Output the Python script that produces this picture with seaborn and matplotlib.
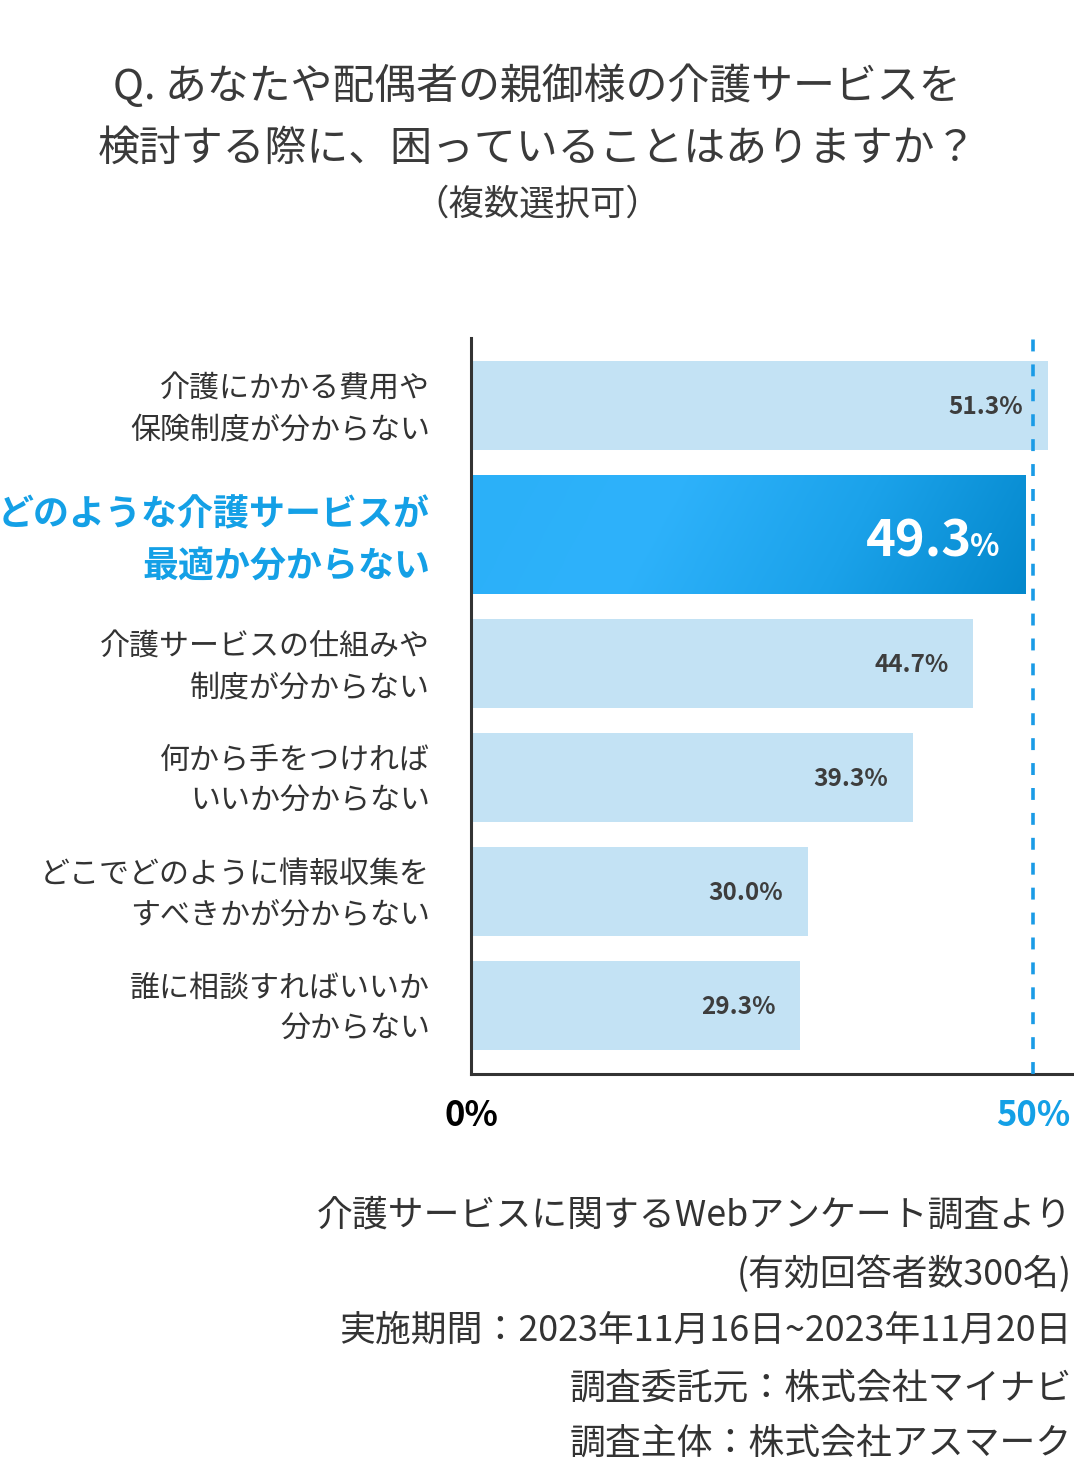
import numpy as np
import pandas as pd
import matplotlib
matplotlib.use("Agg")
import matplotlib.pyplot as plt
import seaborn as sns
from matplotlib.colors import LinearSegmentedColormap
from matplotlib.transforms import blended_transform_factory

# ---------------- data ----------------
categories = [
    "介護にかかる費用や\n保険制度が分からない",
    "どのような介護サービスが\n最適か分からない",
    "介護サービスの仕組みや\n制度が分からない",
    "何から手をつければ\nいいか分からない",
    "どこでどのように情報収集を\nすべきかが分からない",
    "誰に相談すればいいか\n分からない",
]
values = [51.3, 49.3, 44.7, 39.3, 30.0, 29.3]
highlight_index = 1
xtick_values = [0, 50]
xtick_labels = ["0%", "50%"]
title_lines = [
    "Q. あなたや配偶者の親御様の介護サービスを",
    "検討する際に、困っていることはありますか？",
    "（複数選択可）",
]
footer_lines = [
    "介護サービスに関するWebアンケート調査より",
    "(有効回答者数300名)",
    "実施期間：2023年11月16日~2023年11月20日",
    "調査委託元：株式会社マイナビ",
    "調査主体：株式会社アスマーク",
]

# ---------------- style ----------------
sns.set_theme(style="white")
plt.rcParams["font.family"] = ["Noto Sans CJK JP", "DejaVu Sans"]

LIGHT = "#c3e2f4"
BLUE = "#14a0e6"
DARK = "#333333"

W, H = 1074, 1468
fig = plt.figure(figsize=(W / 100, H / 100), dpi=100)
fig.patch.set_facecolor("white")

ax_left, ax_right, ax_top, ax_bottom = 471, 1074, 338, 1074
ax = fig.add_axes([ax_left / W, 1 - ax_bottom / H,
                   (ax_right - ax_left) / W, (ax_bottom - ax_top) / H])

# layout positions (in units of the regular bar pitch)
pitch_px = 114.0
pos = [0.0, 129 / pitch_px, 258 / pitch_px,
       258 / pitch_px + 1, 258 / pitch_px + 2, 258 / pitch_px + 3]
bar_h = 89 / pitch_px
hl_h = 119 / pitch_px

df = pd.DataFrame({"cat": categories, "value": values, "pos": pos})
sns.barplot(data=df, x="value", y="pos", orient="h", native_scale=True,
            width=bar_h, color=LIGHT, saturation=1, linewidth=0, ax=ax,
            errorbar=None)

px_per_unit = 11.24
xmax = (ax_right - ax_left) / px_per_unit
ymin = (ax_top - 405.5) / pitch_px
ymax = (ax_bottom - 405.5) / pitch_px

# highlighted bar with gradient
hl_val = values[highlight_index]
for p in ax.patches:
    if abs(p.get_width() - hl_val) < 1e-6:
        p.set_y(pos[highlight_index] - hl_h / 2)
        p.set_height(hl_h)
        p.set_facecolor("#1aa5ec")
        cmap = LinearSegmentedColormap.from_list(
            "g", ["#2bb0f8", "#2eb2fb", "#1ba2ea", "#0488cc"])
        xs = np.linspace(0, 1, 256)
        ys = np.linspace(0, 1, 32)
        grad = xs[None, :] * 0.9 + ys[:, None] * 0.1
        ax.imshow(grad, extent=[0, hl_val, pos[highlight_index] + hl_h / 2,
                                pos[highlight_index] - hl_h / 2],
                  cmap=cmap, aspect="auto", zorder=p.get_zorder() + 0.1,
                  interpolation="bicubic")

ax.set_xlim(0, xmax)
ax.set_ylim(ymax, ymin)

# reference dashed line at 50%
ax.axvline(50, color="#1a9be6", lw=2.6, dashes=(3.3, 3.6), zorder=5)

# value labels
off_units = 25 / px_per_unit
for i, v in enumerate(values):
    if i == highlight_index:
        base = pos[i] + 22 / pitch_px
        ax.text(v - 26 / px_per_unit, base, "%", ha="right", va="baseline",
                fontsize=22, fontweight="bold", color="white", zorder=6)
        ax.text(v - 53 / px_per_unit, base, f"{v:.1f}", ha="right",
                va="baseline", fontsize=36.5, fontweight="bold", color="white",
                zorder=6)
    else:
        ax.text(v - off_units, pos[i] + 9 / pitch_px, f"{v:.1f}%", ha="right",
                va="baseline", fontsize=17.5, fontweight="bold",
                color="#3d3d3d", zorder=6)

# category labels (left of the axis)
ax.set_yticks([])
ax.set_ylabel("")
lab_tr = blended_transform_factory(ax.transAxes, ax.transData)
lab_x = (430 - ax_left) / (ax_right - ax_left)
for i, (c, y) in enumerate(zip(categories, pos)):
    if i == highlight_index:
        ax.text(lab_x, y + 6 / pitch_px, c, transform=lab_tr, ha="right",
                va="center", fontsize=25.9, fontweight="bold", color=BLUE,
                linespacing=1.46, clip_on=False)
    else:
        ax.text(lab_x, y + 3.5 / pitch_px, c, transform=lab_tr, ha="right",
                va="center", fontsize=21.6, color=DARK, linespacing=1.42,
                clip_on=False)

# x ticks
ax.set_xticks(xtick_values)
ax.set_xticklabels(xtick_labels)
ax.tick_params(axis="x", length=0, pad=17)
for i, lab in enumerate(ax.get_xticklabels()):
    lab.set_fontsize(25)
    lab.set_fontweight("bold")
    lab.set_color("black" if i == 0 else BLUE)
ax.set_xlabel("")

# spines
sns.despine(ax=ax, top=True, right=True)
for s in ["left", "bottom"]:
    ax.spines[s].set_color(DARK)
    ax.spines[s].set_linewidth(2.2)
ax.grid(False)

# title
title_y = [86, 149, 205]
title_sizes = [30.2, 30.2, 25.5]
for t, y, s in zip(title_lines, title_y, title_sizes):
    fig.text(537 / W, 1 - y / H, t, ha="center", va="center", fontsize=s,
             color="#3a3a3a")

# footer
footer_y = [1216, 1274, 1331, 1388, 1444]
for t, y in zip(footer_lines, footer_y):
    fig.text(1072 / W, 1 - y / H, t, ha="right", va="center", fontsize=25.8,
             color=DARK)

fig.savefig("out.png", dpi=100, facecolor="white")
